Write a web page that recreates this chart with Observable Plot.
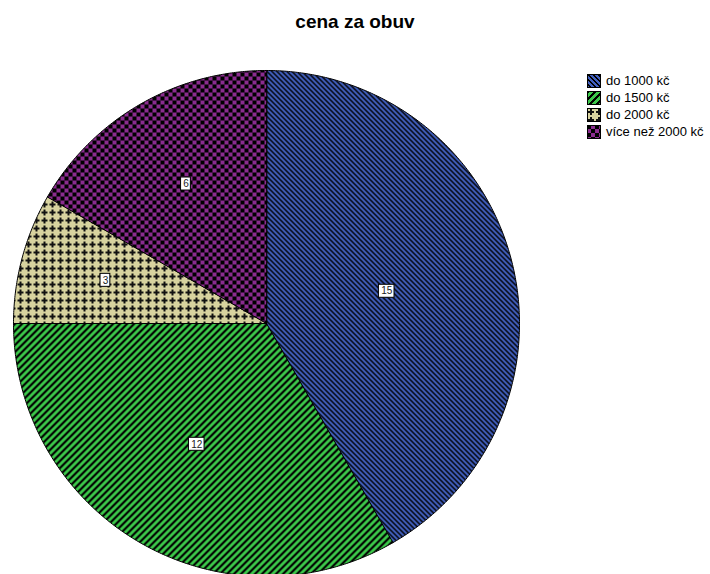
<!DOCTYPE html>
<html>
<head>
<meta charset="utf-8">
<script src="https://cdn.jsdelivr.net/npm/d3@7"></script>
<script src="https://cdn.jsdelivr.net/npm/@observablehq/plot@0.6"></script>
<style>
  html, body { margin: 0; padding: 0; background: #fff; }
  #wrap { position: relative; width: 710px; height: 574px; overflow: hidden; font-family: "Liberation Sans", Arial, sans-serif; }
  #title { position: absolute; left: 0; width: 710px; top: 11px; text-align: center; font-weight: bold; font-size: 19px; line-height: 22px; color: #000; }
  #chart { position: absolute; left: 0; top: 0; }
  #legend { position: absolute; left: 587px; top: 72px; font-size: 13px; color: #000; white-space: nowrap; }
  .row { display: flex; align-items: center; height: 17px; }
  .row svg { margin-right: 5px; flex: none; }
</style>
</head>
<body>
<div id="wrap">
  <div id="chart"></div>
  <div id="title">cena za obuv</div>
  <div id="legend"></div>
</div>
<script>
const categories = ["do 1000 kč", "do 1500 kč", "do 2000 kč", "více než 2000 kč"];
const counts = [15, 12, 3, 6];
const patternIds = ["pat-blue", "pat-green", "pat-beige", "pat-purple"];

const pie = d3.pie().sort(null).value(d => d.count).startAngle(0).endAngle(2 * Math.PI);
const slices = pie(categories.map((c, i) => ({ key: c, count: counts[i], pat: patternIds[i] })));

// slice outlines in unit-radius coordinates (y up)
function slicePoints(s) {
  const pts = [{ x: 0, y: 0 }];
  const n = Math.max(8, Math.ceil((s.endAngle - s.startAngle) / (Math.PI / 360)));
  for (let k = 0; k <= n; k++) {
    const a = s.startAngle + (s.endAngle - s.startAngle) * k / n;
    pts.push({ x: Math.sin(a), y: Math.cos(a) });
  }
  return pts;
}

// label positions at area centroid of each sector
const labels = slices.map(s => {
  const th = s.endAngle - s.startAngle;
  const mid = (s.startAngle + s.endAngle) / 2;
  const d = 4 * Math.sin(th / 2) / (3 * th);
  const txt = String(s.data.count);
  const hw = (txt.length * 5.8 + 4) / 2 / 253;
  const hh = 6.5 / 253;
  const x = d * Math.sin(mid), y = d * Math.cos(mid);
  return { x, y, txt, x1: x - hw, x2: x + hw, y1: y - hh, y2: y + hh };
});

const svg = Plot.plot({
  width: 710,
  height: 574,
  margin: 0,
  x: { domain: [-1, 1], range: [13, 519], axis: null },
  y: { domain: [-1, 1], range: [576, 70], axis: null },
  marks: [
    ...slices.map(s => Plot.line(slicePoints(s), {
      x: "x", y: "y", curve: "linear-closed",
      fill: `url(#${s.data.pat})`, stroke: "black", strokeWidth: 1, strokeLinejoin: "miter"
    })),
    Plot.rect(labels, { x1: "x1", x2: "x2", y1: "y1", y2: "y2", fill: "white", stroke: "black", strokeWidth: 1 }),
    Plot.text(labels, { x: "x", y: "y", text: "txt", fontSize: 10, fill: "#222", fontFamily: "Liberation Sans, Arial, sans-serif" })
  ]
});

// pixel-tile patterns
function pixelPattern(id, n, bg, fg, test) {
  let s = `<pattern id="${id}" patternUnits="userSpaceOnUse" width="${n}" height="${n}"><rect width="${n}" height="${n}" fill="${bg}"/>`;
  for (let yy = 0; yy < n; yy++) for (let xx = 0; xx < n; xx++) {
    if (test(xx, yy)) s += `<rect x="${xx}" y="${yy}" width="1" height="1" fill="${fg}"/>`;
  }
  return s + `</pattern>`;
}
const defsMarkup = `<defs>` +
  pixelPattern("pat-blue", 5, "#4260bf", "#000", (x, y) => { const m = ((x - y) % 5 + 5) % 5; return m === 0 || m === 1; }) +
  pixelPattern("pat-green", 7, "#3cc84a", "#000", (x, y) => { const m = (x + y) % 7; return m <= 2; }) +
  pixelPattern("pat-beige", 8, "#d8d39f", "#111", (x, y) => ((x === 3 || x === 4) && y >= 1 && y <= 6) || ((y === 3 || y === 4) && x >= 1 && x <= 6)) +
  pixelPattern("pat-purple", 8, "#8b2c8f", "#000", (x, y) => (x < 4) === (y < 4)) +
  `</defs>`;
const defsDoc = new DOMParser().parseFromString(`<svg xmlns="http://www.w3.org/2000/svg">${defsMarkup}</svg>`, "image/svg+xml");
const defs = document.importNode(defsDoc.documentElement.firstElementChild, true);
defs.querySelectorAll("rect").forEach(r => r.setAttribute("shape-rendering", "crispEdges"));
svg.insertBefore(defs, svg.firstChild);
document.getElementById("chart").appendChild(svg);

const legend = document.getElementById("legend");
categories.forEach((c, i) => {
  const row = document.createElement("div");
  row.className = "row";
  row.innerHTML = `<svg width="14" height="14"><rect x="0.5" y="0.5" width="13" height="13" fill="url(#${patternIds[i]})" stroke="#000"/></svg><span>${c}</span>`;
  legend.appendChild(row);
});
</script>
</body>
</html>
